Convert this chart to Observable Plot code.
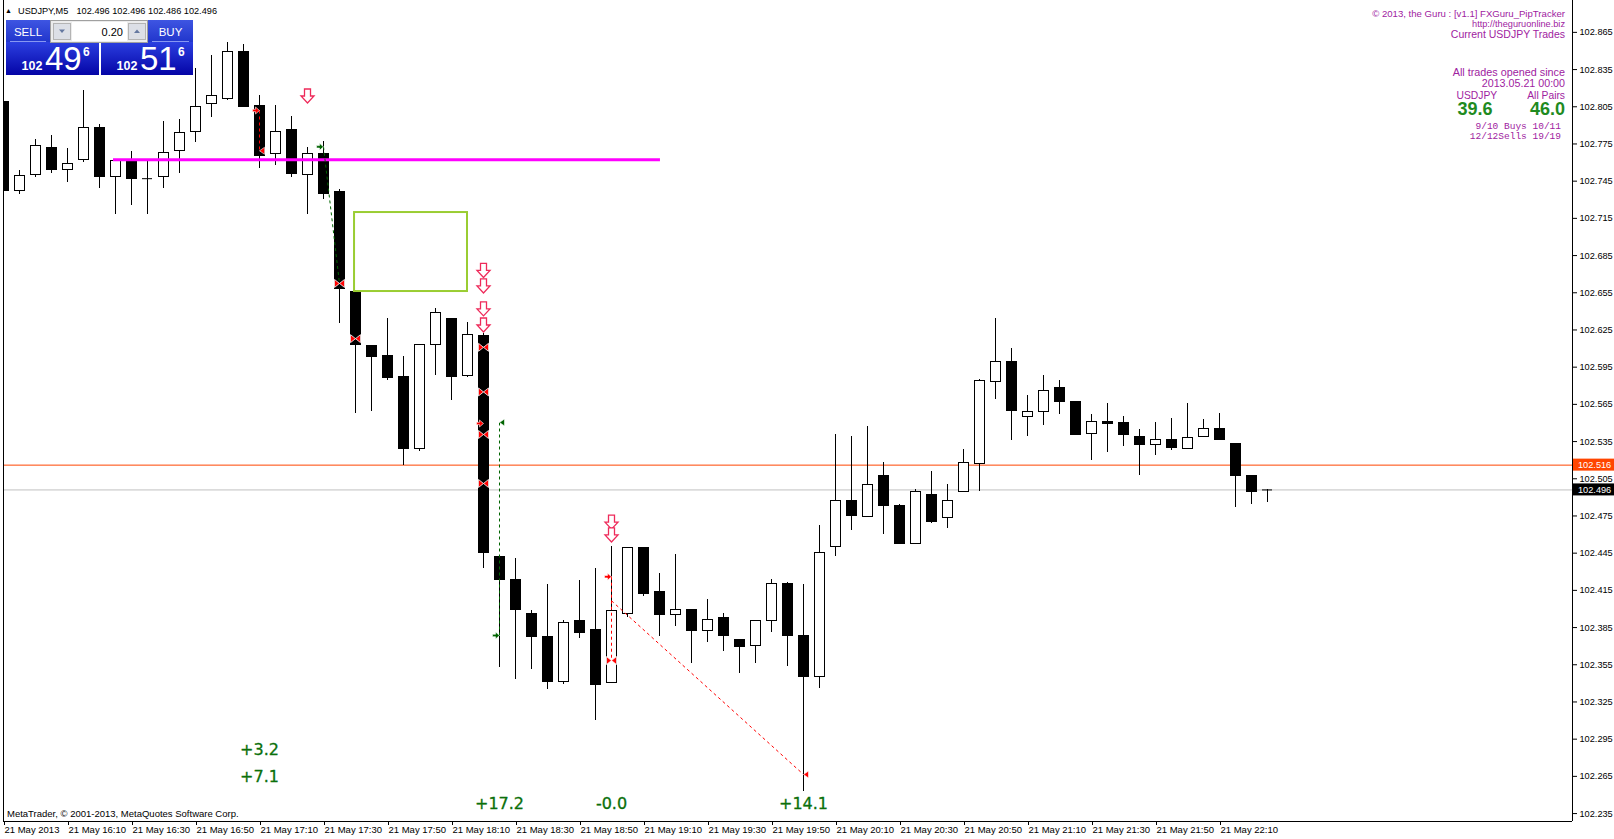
<!DOCTYPE html>
<html><head><meta charset="utf-8">
<script src="https://cdn.jsdelivr.net/npm/d3@7"></script>
<script src="https://cdn.jsdelivr.net/npm/@observablehq/plot@0.6"></script>
<style>html,body{margin:0;padding:0;background:#fff;overflow:hidden}#chart{position:absolute;left:0;top:0}</style>
</head><body><div id="chart"></div>
<script>
// ---- data: USDJPY M5, 21 May 2013 ----
const times = ["15:50","15:55","16:00","16:05","16:10","16:15","16:20","16:25","16:30","16:35","16:40","16:45","16:50","16:55","17:00","17:05","17:10","17:15","17:20","17:25","17:30","17:35","17:40","17:45","17:50","17:55","18:00","18:05","18:10","18:15","18:20","18:25","18:30","18:35","18:40","18:45","18:50","18:55","19:00","19:05","19:10","19:15","19:20","19:25","19:30","19:35","19:40","19:45","19:50","19:55","20:00","20:05","20:10","20:15","20:20","20:25","20:30","20:35","20:40","20:45","20:50","20:55","21:00","21:05","21:10","21:15","21:20","21:25","21:30","21:35","21:40","21:45","21:50","21:55","22:00","22:05","22:10","22:15","22:20","22:25"];
const opens  = [102.809,102.737,102.750,102.772,102.754,102.762,102.788,102.748,102.761,102.747,102.748,102.769,102.785,102.807,102.811,102.849,102.806,102.767,102.786,102.750,102.767,102.736,102.656,102.612,102.604,102.587,102.529,102.613,102.634,102.588,102.620,102.442,102.423,102.396,102.377,102.341,102.390,102.383,102.340,102.396,102.449,102.414,102.395,102.399,102.382,102.393,102.375,102.370,102.390,102.420,102.378,102.345,102.450,102.487,102.474,102.507,102.483,102.452,102.492,102.473,102.494,102.517,102.583,102.599,102.555,102.559,102.578,102.567,102.541,102.551,102.550,102.539,102.532,102.536,102.529,102.539,102.545,102.533,102.507,102.496];
const highs  = [102.813,102.754,102.779,102.782,102.771,102.818,102.791,102.762,102.769,102.762,102.793,102.795,102.836,102.846,102.857,102.855,102.814,102.806,102.797,102.772,102.777,102.738,102.657,102.612,102.634,102.604,102.613,102.642,102.634,102.631,102.622,102.442,102.441,102.399,102.420,102.391,102.423,102.433,102.450,102.449,102.449,102.429,102.444,102.399,102.408,102.396,102.375,102.390,102.424,102.421,102.420,102.467,102.541,102.539,102.547,102.518,102.484,102.496,102.511,102.500,102.529,102.585,102.634,102.610,102.572,102.588,102.584,102.567,102.557,102.566,102.555,102.545,102.550,102.554,102.566,102.553,102.558,102.533,102.507,102.496];
const lows   = [102.717,102.734,102.748,102.751,102.744,102.760,102.739,102.718,102.725,102.718,102.739,102.751,102.776,102.796,102.810,102.805,102.755,102.758,102.748,102.718,102.730,102.630,102.558,102.559,102.584,102.516,102.527,102.588,102.568,102.587,102.433,102.353,102.343,102.351,102.335,102.339,102.376,102.310,102.340,102.393,102.410,102.378,102.386,102.356,102.373,102.366,102.348,102.356,102.381,102.354,102.253,102.336,102.442,102.463,102.474,102.460,102.452,102.452,102.469,102.465,102.494,102.495,102.569,102.536,102.539,102.548,102.557,102.540,102.520,102.526,102.531,102.508,102.524,102.528,102.529,102.539,102.536,102.482,102.484,102.486];
const closes = [102.737,102.749,102.773,102.754,102.759,102.788,102.748,102.761,102.747,102.747,102.768,102.784,102.805,102.814,102.849,102.805,102.765,102.785,102.751,102.767,102.735,102.658,102.613,102.603,102.586,102.529,102.613,102.639,102.587,102.621,102.445,102.423,102.399,102.377,102.341,102.389,102.381,102.339,102.398,102.449,102.412,102.395,102.399,102.382,102.391,102.378,102.369,102.390,102.420,102.378,102.345,102.445,102.487,102.475,102.500,102.483,102.452,102.494,102.470,102.487,102.518,102.584,102.599,102.560,102.559,102.576,102.567,102.540,102.551,102.549,102.540,102.532,102.536,102.530,102.538,102.545,102.536,102.507,102.494,102.496];

const tickTimes  = ["15:50","16:10","16:30","16:50","17:10","17:30","17:50","18:10","18:30","18:50","19:10","19:30","19:50","20:10","20:30","20:50","21:10","21:30","21:50","22:10"];
const tickLabels = ["21 May 2013","21 May 16:10","21 May 16:30","21 May 16:50","21 May 17:10","21 May 17:30","21 May 17:50","21 May 18:10","21 May 18:30","21 May 18:50","21 May 19:10","21 May 19:30","21 May 19:50","21 May 20:10","21 May 20:30","21 May 20:50","21 May 21:10","21 May 21:30","21 May 21:50","21 May 22:10"];
const priceTicks = [102.865,102.835,102.805,102.775,102.745,102.715,102.685,102.655,102.625,102.595,102.565,102.535,102.505,102.475,102.445,102.415,102.385,102.355,102.325,102.295,102.265,102.235];

const bidPrice = 102.496, askPrice = 102.516;
const lastBar = {o: 102.496, h: 102.496, l: 102.486, c: 102.496};
const lotSize = "0.20";
const summary = {symbolPips: "39.6", allPips: "46.0", buys: "9/10 Buys 10/11", sells: "12/12Sells 19/19"};

// annotations (bar time, price)
const resistance = {bar1: 6.875, bar2: 41.06, price: 102.7623};
const zoneBox = {bar1: 21.94, bar2: 29.0, p1: 102.656, p2: 102.7197};
const downArrows = [
  {t:"17:25", p:102.8137},
  {t:"18:20", p:102.673},{t:"18:20", p:102.6605},{t:"18:20", p:102.642},{t:"18:20", p:102.629},
  {t:"19:00", p:102.470},{t:"19:00", p:102.4597}
];
const tradeLinks = [
  {t1:"17:10", p1:102.802,  t2:"17:10", p2:102.7695, kind:"sell"},
  {t1:"17:30", p1:102.7727, t2:"17:35", p2:102.6625, kind:"buy"},
  {t1:"18:25", p1:102.3786, t2:"18:25", p2:102.5504, kind:"buy"},
  {t1:"19:00", p1:102.426,  t2:"19:00", p2:102.3584, kind:"sell"},
  {t1:"19:00", p1:102.4066, t2:"20:00", p2:102.2665, kind:"sell"}
];
const openMarks = [
  {t:"17:10", p:102.802, kind:"sell"},{t:"17:30", p:102.7727, kind:"buy"},
  {t:"18:25", p:102.3786, kind:"buy"},{t:"18:20", p:102.5496, kind:"sell"},{t:"19:00", p:102.426, kind:"sell"}
];
const closeMarks = [
  {t:"17:10", p:102.7695, kind:"sell"},{t:"18:25", p:102.5504, kind:"buy"},{t:"20:00", p:102.2665, kind:"sell"}
];
const bothMarks = [
  {t:"17:35", p:102.6625},{t:"17:40", p:102.618},
  {t:"18:20", p:102.611},{t:"18:20", p:102.575},{t:"18:20", p:102.5407},{t:"18:20", p:102.5012},
  {t:"19:00", p:102.3584}
];
const pnlLabels = [
  {t:"17:10", p:102.2867, label:"+3.2"},
  {t:"17:10", p:102.2649, label:"+7.1"},
  {t:"18:25", p:102.2431, label:"+17.2"},
  {t:"19:00", p:102.2431, label:"-0.0"},
  {t:"20:00", p:102.2431, label:"+14.1"}
];

// ---- build ----
const bi = t => times.indexOf(t);
const candles = times.map((t, i) => ({i, t, o: opens[i], h: highs[i], l: lows[i], c: closes[i]}));
const dojis = candles.filter(d => d.o === d.c);
const HALF = 0.3125;
const RED = "#ff0000", GREEN = "#006400";
const kindColor = k => k === "buy" ? GREEN : RED;

const downSym = {draw(c){c.moveTo(-3,-7);c.lineTo(3,-7);c.lineTo(3,0);c.lineTo(6.5,0);c.lineTo(0,7);c.lineTo(-6.5,0);c.lineTo(-3,0);c.closePath();}};
const openSym = {draw(c){c.moveTo(0,0);c.lineTo(-4,-3.5);c.lineTo(-4,-1.2);c.lineTo(-7,-1.2);c.lineTo(-7,1.2);c.lineTo(-4,1.2);c.lineTo(-4,3.5);c.closePath();}};
const closeSym = {draw(c){c.moveTo(0,0);c.lineTo(5,-3.5);c.lineTo(5,3.5);c.closePath();}};
const bothSym = {draw(c){c.moveTo(0,0);c.lineTo(-5,-4);c.lineTo(-5,4);c.closePath();c.moveTo(0,0);c.lineTo(5,-4);c.lineTo(5,4);c.closePath();}};

const plot = Plot.plot({
  width: 1614, height: 839,
  marginLeft: 3, marginRight: 42, marginTop: 0, marginBottom: 18,
  x: {type: "linear", domain: [0, 98.0625]},
  y: {type: "linear", domain: [102.2286, 102.8907]},
  style: {background: "#fff", fontFamily: "'Liberation Sans', Arial, sans-serif", fontSize: "9.5px", color: "#000"},
  marks: [
    Plot.ruleY([askPrice], {stroke: "#ff4500", strokeWidth: 1}),
    Plot.ruleY([bidPrice], {stroke: "#c0c0c0", strokeWidth: 1}),
    Plot.ruleX(candles, {x: "i", y1: "l", y2: "h", stroke: "#000", clip: true, shapeRendering: "crispEdges"}),
    Plot.rect(candles, {x1: d => d.i - HALF, x2: d => d.i + HALF, y1: d => Math.min(d.o, d.c), y2: d => Math.max(d.o, d.c),
      fill: d => d.c >= d.o ? "#fff" : "#000", stroke: "#000", strokeWidth: 1, clip: true, shapeRendering: "crispEdges"}),
    Plot.ruleY(dojis, {x1: d => d.i - HALF, x2: d => d.i + HALF, y: "o", stroke: "#000", clip: true}),
    Plot.ruleY([resistance], {x1: "bar1", x2: "bar2", y: "price", stroke: "#ff00ff", strokeWidth: 3}),
    Plot.rect([zoneBox], {x1: "bar1", x2: "bar2", y1: "p1", y2: "p2", fill: "none", stroke: "#9acd32", strokeWidth: 2}),
    Plot.link(tradeLinks, {x1: d => bi(d.t1), y1: "p1", x2: d => bi(d.t2), y2: "p2", stroke: d => kindColor(d.kind), strokeWidth: 1, strokeDasharray: "3,3"}),
    Plot.dot(openMarks, {x: d => bi(d.t), y: "p", symbol: openSym, r: 5, fill: d => kindColor(d.kind), stroke: "#fff", strokeWidth: 0.6}),
    Plot.dot(closeMarks, {x: d => bi(d.t), y: "p", symbol: closeSym, r: 5, fill: d => kindColor(d.kind), stroke: "#fff", strokeWidth: 0.6}),
    Plot.dot(bothMarks, {x: d => bi(d.t), y: "p", symbol: bothSym, r: 5, fill: RED, stroke: "#fff", strokeWidth: 0.8}),
    Plot.dot(downArrows, {x: d => bi(d.t), y: "p", symbol: downSym, r: 7, fill: "#fff", stroke: "#ee2a5a", strokeWidth: 1.3}),
    Plot.text(pnlLabels, {x: d => bi(d.t), y: "p", text: "label", fill: "#0b700b", stroke: "#0b700b", strokeWidth: 0.3,
      fontSize: 16, fontFamily: "'DejaVu Sans', sans-serif"}),
    Plot.ruleX([0, 98.0625], {stroke: "#000"}),
    Plot.ruleY([102.2286], {stroke: "#000"}),
    Plot.axisX({anchor: "bottom", ticks: tickTimes.map(bi), tickFormat: d => tickLabels[tickTimes.indexOf(times[d])],
      tickSize: 4, tickPadding: 1, textAnchor: "start", dx: 1, fontSize: 9.5, label: null}),
    Plot.axisY({anchor: "right", ticks: priceTicks, tickFormat: d3.format(".3f"), tickSize: 4, tickPadding: 3, fontSize: 9.2, label: null})
  ]
});
document.getElementById("chart").appendChild(plot);

// ---- overlays (terminal UI) ----
const svg = d3.select(plot);
const ui = svg.append("g").attr("text-anchor", "start");
const ys = plot.scale("y");
const F = "'Liberation Sans', Arial, sans-serif";
const fmt = d3.format(".3f");
const txt = (x, y, s, size, opts = {}) => ui.append("text").attr("x", x).attr("y", y)
  .attr("text-anchor", opts.anchor || "start").attr("font-size", size).attr("font-family", opts.family || F)
  .attr("fill", opts.fill || "#000").attr("font-weight", opts.weight || "normal").text(s);

// price tags on the right axis
[[askPrice, "#ff4500"], [bidPrice, "#000"]].forEach(([p, col]) => {
  const y = ys.apply(p);
  ui.append("rect").attr("x", 1573).attr("y", y - 6).attr("width", 41).attr("height", 12).attr("fill", col);
  txt(1578, y + 3.3, fmt(p), 9.2, {fill: "#fff"});
});

// header
txt(5, 12.5, "▲", 7);
txt(18, 14, "USDJPY,M5", 9.2);
txt(76.5, 14, [lastBar.o, lastBar.h, lastBar.l, lastBar.c].map(fmt).join(" "), 9.2);

// one-click trading panel
const defs = svg.append("defs");
function grad(id, a, b){const g = defs.append("linearGradient").attr("id", id).attr("x1",0).attr("y1",0).attr("x2",0).attr("y2",1);
  g.append("stop").attr("offset","0%").attr("stop-color",a); g.append("stop").attr("offset","100%").attr("stop-color",b);}
grad("gTop", "#3e55e2", "#2136cc");
grad("gBot", "#2b3fe0", "#0404a6");
ui.append("rect").attr("x",6).attr("y",20).attr("width",44).attr("height",22).attr("fill","url(#gTop)");
ui.append("rect").attr("x",148).attr("y",20).attr("width",45).attr("height",22).attr("fill","url(#gTop)");
ui.append("rect").attr("x",6).attr("y",42).attr("width",93).attr("height",33).attr("fill","url(#gBot)");
ui.append("rect").attr("x",101).attr("y",42).attr("width",92).attr("height",33).attr("fill","url(#gBot)");
ui.append("line").attr("x1",10).attr("x2",46).attr("y1",41.5).attr("y2",41.5).attr("stroke","#8797f2");
ui.append("line").attr("x1",152).attr("x2",189).attr("y1",41.5).attr("y2",41.5).attr("stroke","#8797f2");
ui.append("rect").attr("x",50.5).attr("y",20.5).attr("width",97).attr("height",22).attr("fill","#ececec").attr("stroke","#a0a0a0");
ui.append("rect").attr("x",53.5).attr("y",23.5).attr("width",17).attr("height",16).attr("fill","#dcdfe6").attr("stroke","#b4b4b4");
ui.append("rect").attr("x",128.5).attr("y",23.5).attr("width",17).attr("height",16).attr("fill","#dcdfe6").attr("stroke","#b4b4b4");
ui.append("rect").attr("x",72).attr("y",22).attr("width",55).attr("height",19).attr("fill","#fff");
ui.append("path").attr("d","M59,29.5 L65,29.5 L62,33 Z").attr("fill","#6478a0");
ui.append("path").attr("d","M134,33 L140,33 L137,29.5 Z").attr("fill","#6478a0");
txt(123, 35.5, lotSize, 11, {anchor: "end"});
txt(28, 35.5, "SELL", 11.5, {anchor: "middle", fill: "#fff"});
txt(170.5, 35.5, "BUY", 11.5, {anchor: "middle", fill: "#fff"});
function quote(x0, price){
  const s = fmt(price);
  txt(x0, 70, s.slice(0, 3), 12.5, {fill: "#fff", weight: "bold"});
  txt(x0 + 23.5, 70, s.slice(4, 6), 33, {fill: "#fff"});
  txt(x0 + 61.5, 56, s.slice(6), 12, {fill: "#fff", weight: "bold"});
}
quote(21.5, bidPrice);
quote(116.5, askPrice);

// top-right info block
const PURP = "#a0229f";
const MONO = "'Liberation Mono', 'DejaVu Sans Mono', monospace";
txt(1565, 16.5, "© 2013, the Guru : [v1.1] FXGuru_PipTracker", 9.6, {anchor: "end", fill: PURP});
txt(1565, 27, "http://theguruonline.biz", 9.2, {anchor: "end", fill: PURP});
txt(1565, 38, "Current USDJPY Trades", 10.5, {anchor: "end", fill: PURP});
txt(1565, 75.5, "All trades opened since", 10.8, {anchor: "end", fill: PURP});
txt(1565, 87, "2013.05.21 00:00", 10.7, {anchor: "end", fill: PURP});
txt(1456.5, 99, "USDJPY", 10.3, {fill: PURP});
txt(1565, 99, "All Pairs", 10.3, {anchor: "end", fill: PURP});
txt(1457.5, 115, summary.symbolPips, 18, {fill: "#1f8b1f", weight: "bold"});
txt(1565, 115, summary.allPips, 18, {anchor: "end", fill: "#1f8b1f", weight: "bold"});
txt(1561, 128.5, summary.buys, 9.5, {anchor: "end", fill: PURP, family: MONO});
txt(1561, 138.5, summary.sells, 9.5, {anchor: "end", fill: PURP, family: MONO});

// bottom-left credit
txt(7, 816.5, "MetaTrader, © 2001-2013, MetaQuotes Software Corp.", 9.5);
</script>
</body></html>
